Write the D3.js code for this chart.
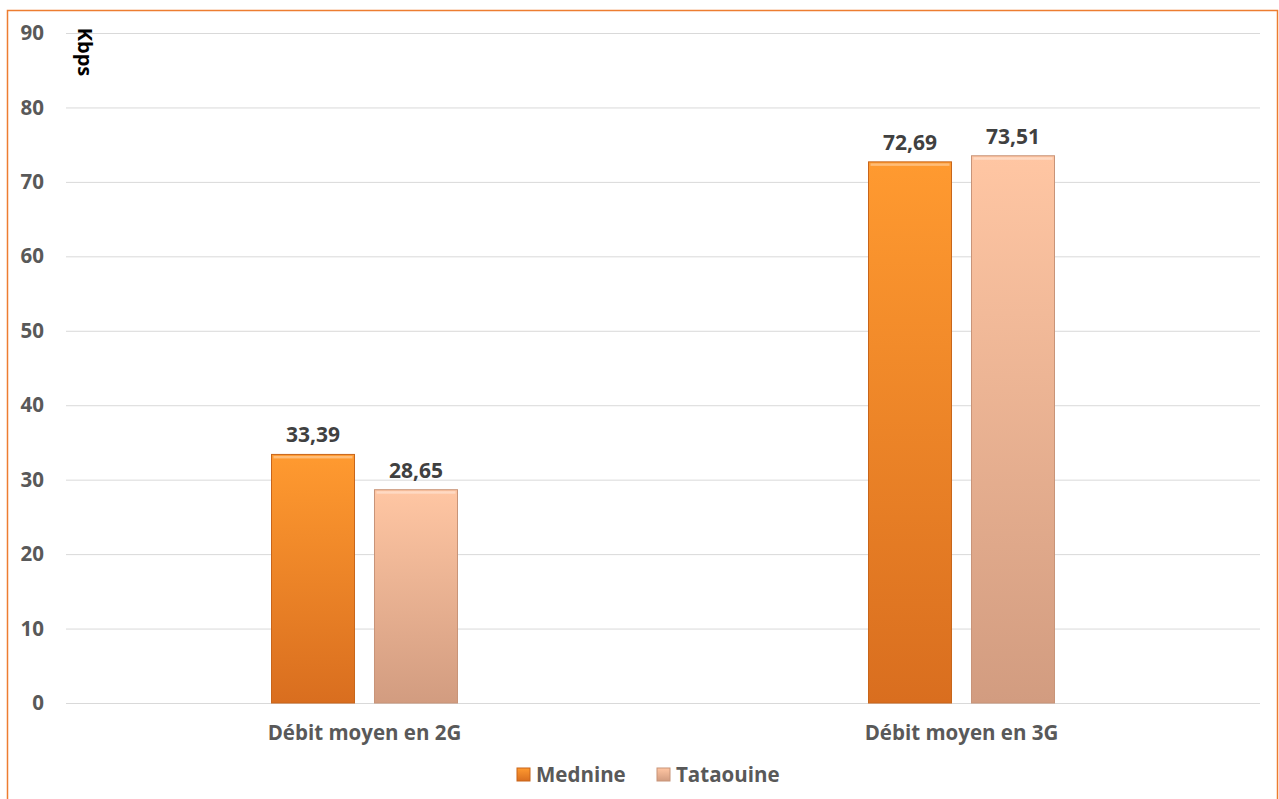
<!DOCTYPE html>
<html><head><meta charset="utf-8">
<script src="https://cdn.jsdelivr.net/npm/d3@7"></script>
<style>body{margin:0;background:#fff}svg{display:block}text{font-family:"Open Sans",sans-serif}</style>
</head><body><svg id="c" width="1279" height="799"></svg>
<script>
const categories = ["Débit moyen en 2G", "Débit moyen en 3G"];
const seriesNames = ["Mednine", "Tataouine"];
const mednine = [33.39, 72.69];
const tataouine = [28.65, 73.51];
const yTicks = [0, 10, 20, 30, 40, 50, 60, 70, 80, 90];
const yUnit = "Kbps";

const series = [mednine, tataouine];
const svg = d3.select("#c");
const defs = svg.append("defs");
const grads = [["#FF9A30", "#D96E1F"], ["#FFC6A3", "#D29C80"]];
const strokes = ["#C8651A", "#C89478"];
grads.forEach((g, i) => {
  const lg = defs.append("linearGradient").attr("id", "g" + i).attr("x1", 0).attr("y1", 0).attr("x2", 0).attr("y2", 1);
  lg.append("stop").attr("offset", 0).attr("stop-color", g[0]);
  lg.append("stop").attr("offset", 1).attr("stop-color", g[1]);
});

svg.append("rect").attr("x", 7.5).attr("y", 10.5).attr("width", 1270).attr("height", 800)
  .attr("fill", "none").attr("stroke", "#ED7D31").attr("stroke-width", 1.5);

const x0 = d3.scaleBand().domain(categories).range([66, 1260]);
const y = d3.scaleLinear().domain([0, 90]).range([703, 33]);
const x1 = d3.scaleBand().domain(seriesNames).range([0, 186]).paddingInner(0.194);

const yAxis = svg.append("g").attr("transform", "translate(66,0)")
  .call(d3.axisLeft(y).tickValues(yTicks).tickSize(-1194).tickPadding(22));
yAxis.select(".domain").remove();
yAxis.selectAll("line").attr("stroke", "#D9D9D9").attr("stroke-width", 1);
yAxis.selectAll("text").attr("fill", "#595959").attr("font-size", 20.5).attr("font-weight", 700)
  .style("font-family", "'Open Sans',sans-serif");

svg.append("text").attr("transform", "translate(78,52) rotate(90)")
  .attr("text-anchor", "middle").attr("font-size", 20).attr("font-weight", 700).attr("fill", "#000")
  .text(yUnit);

categories.forEach((c, ci) => {
  const gx = x0(c) + (x0.bandwidth() - 186) / 2;
  series.forEach((s, si) => {
    const bx = gx + x1(seriesNames[si]);
    const by = y(s[ci]);
    const h = y(0) - by;
    svg.append("rect").attr("x", bx).attr("y", by).attr("width", x1.bandwidth()).attr("height", h)
      .attr("fill", `url(#g${si})`).attr("stroke", strokes[si]).attr("stroke-width", 1);
    svg.append("rect").attr("x", bx + 2).attr("y", by + 1.5).attr("width", x1.bandwidth() - 4).attr("height", 2.5)
      .attr("fill", "#fff").attr("opacity", 0.35);
    svg.append("text").attr("x", bx + x1.bandwidth() / 2).attr("y", by - 12)
      .attr("text-anchor", "middle").attr("font-size", 21).attr("font-weight", 700).attr("fill", "#404040")
      .text(d3.format(".2f")(s[ci]).replace(".", ","));
  });
  svg.append("text").attr("x", x0(c) + x0.bandwidth() / 2).attr("y", 740)
    .attr("text-anchor", "middle").attr("font-size", 20.5).attr("font-weight", 700).attr("fill", "#595959")
    .text(c);
});

const legendX = [517, 657];
seriesNames.forEach((n, i) => {
  const g = svg.append("g").attr("transform", `translate(${legendX[i]},768)`);
  g.append("rect").attr("width", 13).attr("height", 13).attr("fill", `url(#g${i})`).attr("stroke", strokes[i]);
  g.append("text").attr("x", 19).attr("y", 14).attr("font-size", 20.5).attr("font-weight", 700).attr("fill", "#595959").text(n);
});
</script></body></html>
